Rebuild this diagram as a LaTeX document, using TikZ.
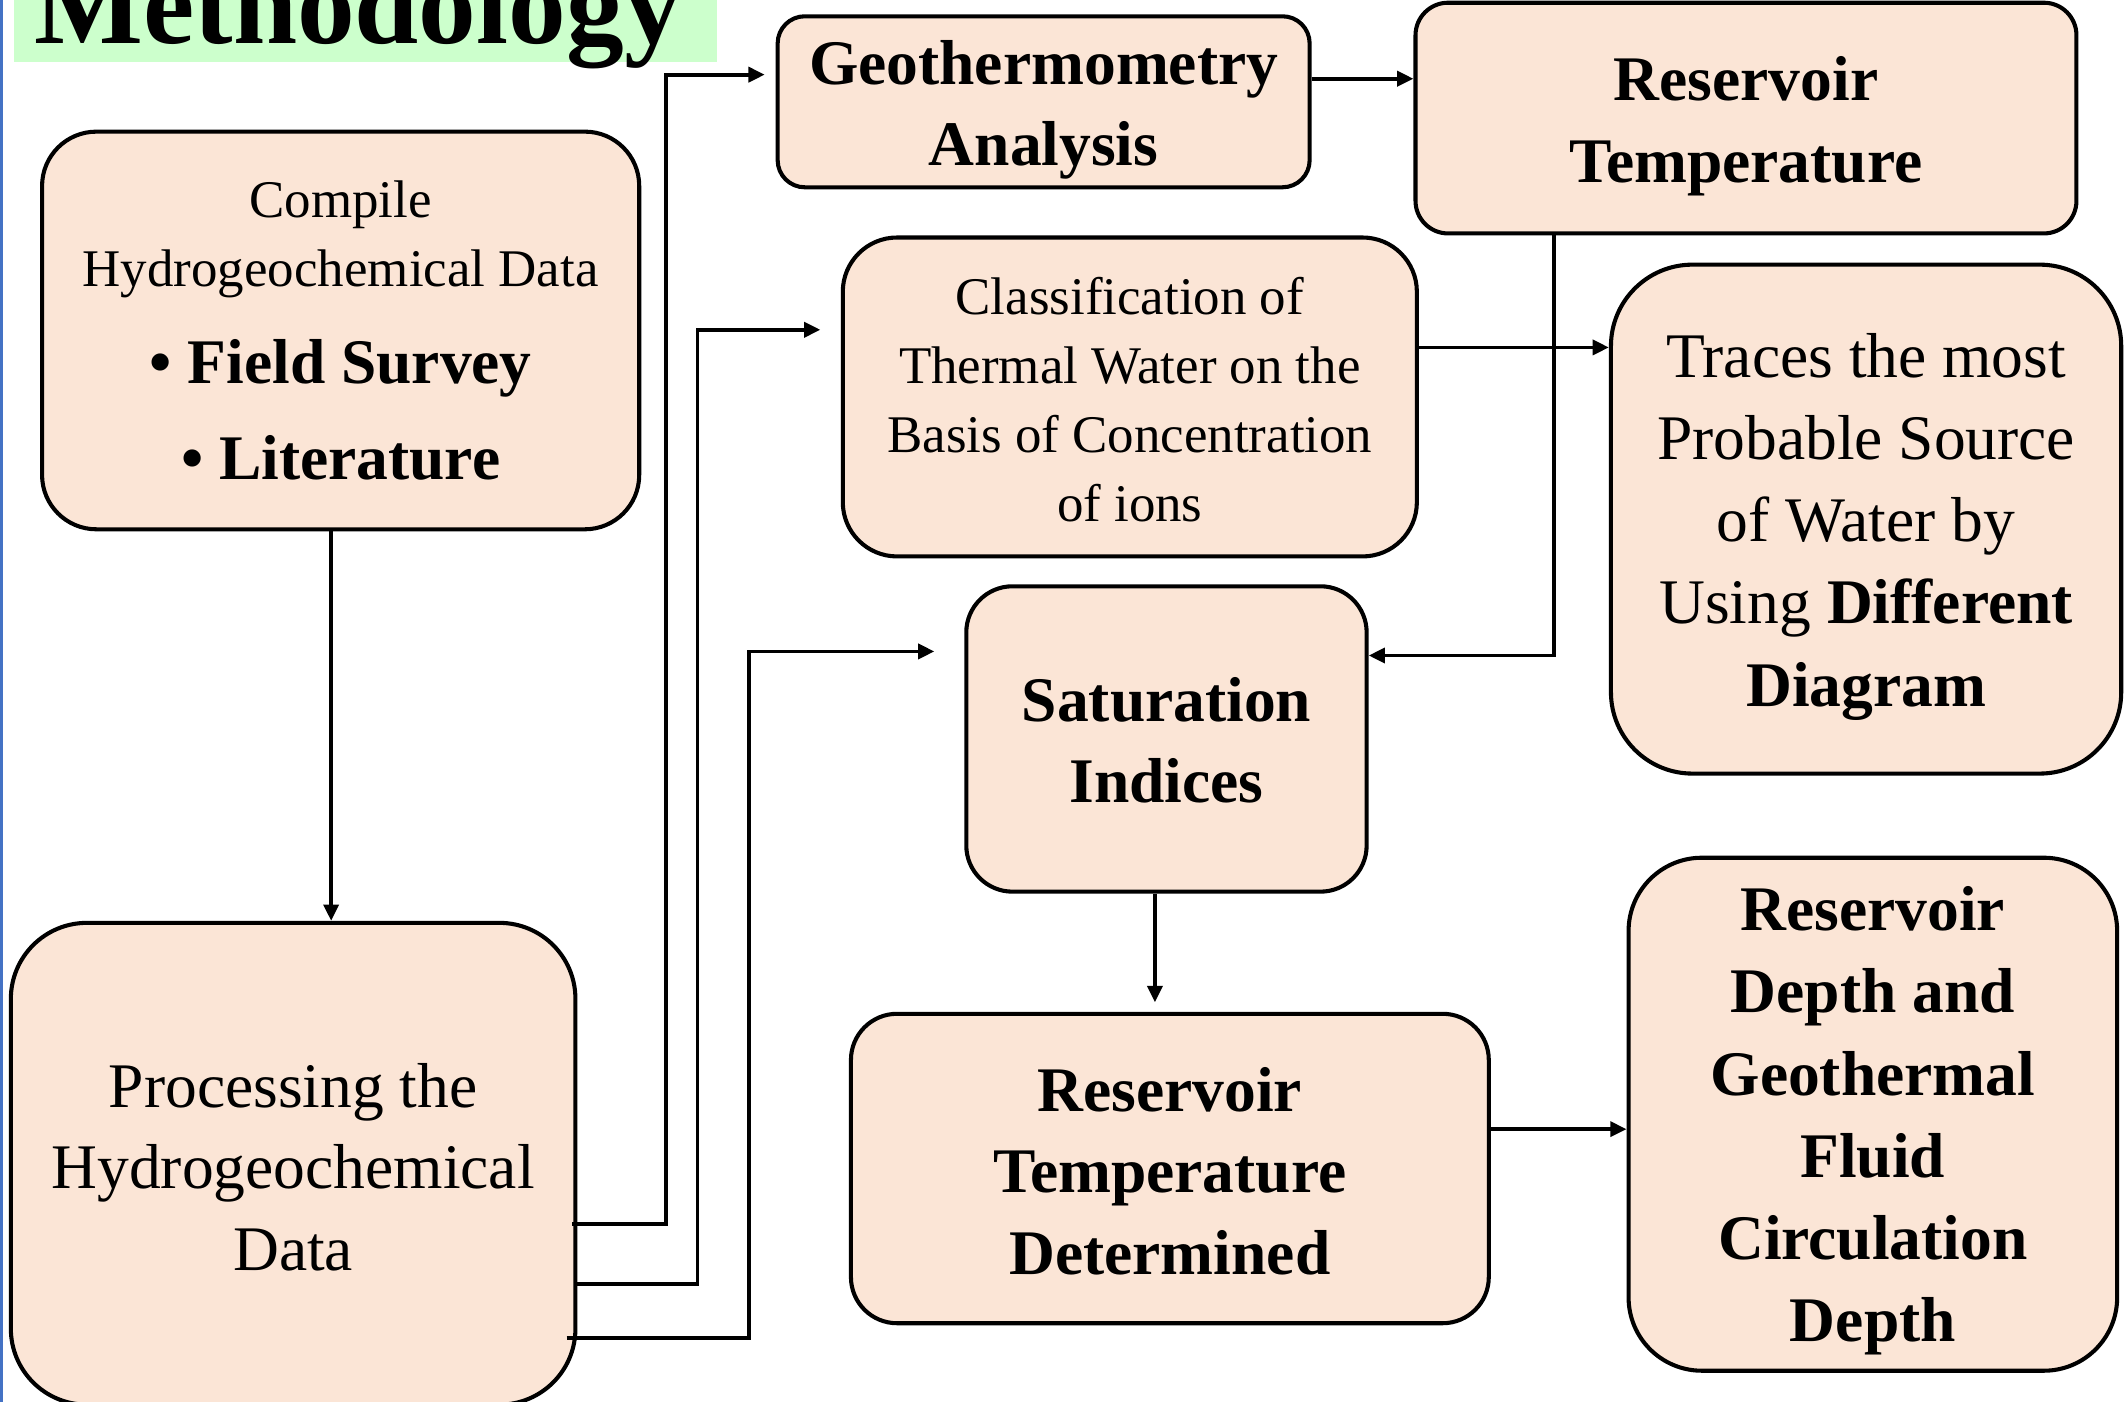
\documentclass[tikz,border=0pt]{standalone}
\usepackage{fontspec}
\setmainfont{Liberation Serif}
\usetikzlibrary{arrows.meta,calc}
\definecolor{peach}{HTML}{FBE5D6}
\definecolor{titlegreen}{HTML}{CCFFCC}
\definecolor{edgeblue}{HTML}{4472C4}
\begin{document}
\begin{tikzpicture}[x=0.5pt,y=-0.5pt,
  box/.style={draw=black, line width=1.5pt, fill=peach, inner sep=0pt},
  txt/.style={align=center, inner sep=0pt, text=black},
  reg/.style={txt, font=\fontsize{23.4}{30}\selectfont},
  regs/.style={txt, font=\fontsize{19.5}{25.5}\selectfont},
  bld/.style={txt, font=\fontsize{23.4}{30}\selectfont\bfseries},
  arr/.style={line width=1.4pt, -{Triangle[length=6pt,width=5.5pt]}},
]
\useasboundingbox (0,0) rectangle (1568,1033);
\fill[white] (0,0) rectangle (1568,1033);
\fill[titlegreen] (10,-20) rectangle (528,46);
\node[anchor=base west, inner sep=0pt, font=\fontsize{42.5}{50}\selectfont\bfseries] (title) at (25,32) {Methodology};
\draw[edgeblue, line width=1pt] (1,0) -- (1,1033);

% boxes
\node[box, rounded corners=20pt, minimum width=220pt, minimum height=146.5pt] (comp) at (251,243.5) {};
\node[box, rounded corners=28pt, minimum width=208pt, minimum height=177.5pt] (proc) at (216,857.5) {};
\node[box, rounded corners=10pt, minimum width=196pt, minimum height=63pt] (geo) at (769,75) {};
\node[box, rounded corners=12pt, minimum width=243.5pt, minimum height=85pt] (rest) at (1286.5,87) {};
\node[box, rounded corners=20pt, minimum width=211.5pt, minimum height=117.5pt] (class) at (832.5,292.5) {};
\node[box, rounded corners=30pt, minimum width=188pt, minimum height=187.5pt] (traces) at (1375,382.5) {};
\node[box, rounded corners=17pt, minimum width=147.5pt, minimum height=112.5pt] (sat) at (859.5,544.5) {};
\node[box, rounded corners=17pt, minimum width=235pt, minimum height=114pt] (rtd) at (862,861) {};
\node[box, rounded corners=27pt, minimum width=180pt, minimum height=189pt] (rd) at (1380,821) {};

% texts
\node[regs] (comp-t) at ([yshift=0pt]comp.center)
  {Compile\\Hydrogeochemical Data\\[10pt]{\fontsize{23.4}{30}\selectfont\bfseries\textbullet\ Field Survey}\\[10pt]{\fontsize{23.4}{30}\selectfont\bfseries\textbullet\ Literature}};
\node[reg] (proc-t) at ([yshift=-1.25pt]proc.center) {Processing the\\Hydrogeochemical\\Data};
\node[bld] (geo-t) at ([yshift=-3pt]geo.center) {Geothermometry\\Analysis};
\node[bld] (rest-t) at ([yshift=-3pt]rest.center) {Reservoir\\Temperature};
\node[regs] (class-t) at ([yshift=-1pt]class.center)
  {Classification of\\Thermal Water on the\\Basis of Concentration\\of ions};
\node[reg, font=\fontsize{23.4}{30.3}\selectfont] (traces-t) at ([yshift=-2.75pt]traces.center)
  {Traces the most\\Probable Source\\of Water by\\Using \textbf{Different}\\\textbf{Diagram}};
\node[bld] (sat-t) at ([yshift=-0.5pt]sat.center) {Saturation\\Indices};
\node[bld] (rtd-t) at ([yshift=-1pt]rtd.center) {Reservoir\\Temperature\\Determined};
\node[bld, font=\fontsize{23.4}{30.3}\selectfont\bfseries] (rd-t) at ([yshift=-2.5pt]rd.center)
  {Reservoir\\Depth and\\Geothermal\\Fluid\\Circulation\\Depth};

% connectors
\draw[arr] (comp.south -| 244,0) -- (proc.north -| 244,0);
\draw[arr, shorten >=4pt] ([xshift=-2pt]proc.east |- 0,902) -- (491,902) -- (491,55) -- (geo.west |- 0,55);
\draw[arr, shorten >=7.5pt] (proc.east |- 0,946) -- (514,946) -- (514,243) -- (class.west |- 0,243);
\draw[arr, shorten >=11pt] ([xshift=-4pt]proc.east |- 0,986) -- (552,986) -- (552,480) -- (sat.west |- 0,480);
\draw[arr] (geo.east |- 0,58) -- (rest.west |- 0,58);
\draw[arr] (rest.south -| 1145,0) -- (1145,483) -- (sat.east |- 0,483);
\draw[arr] (class.east |- 0,256) -- (traces.west |- 0,256);
\draw[arr, shorten >=3.5pt] (sat.south -| 851,0) -- (rtd.north -| 851,0);
\draw[arr] (rtd.east |- 0,832) -- (rd.west |- 0,832);
\end{tikzpicture}
\end{document}
